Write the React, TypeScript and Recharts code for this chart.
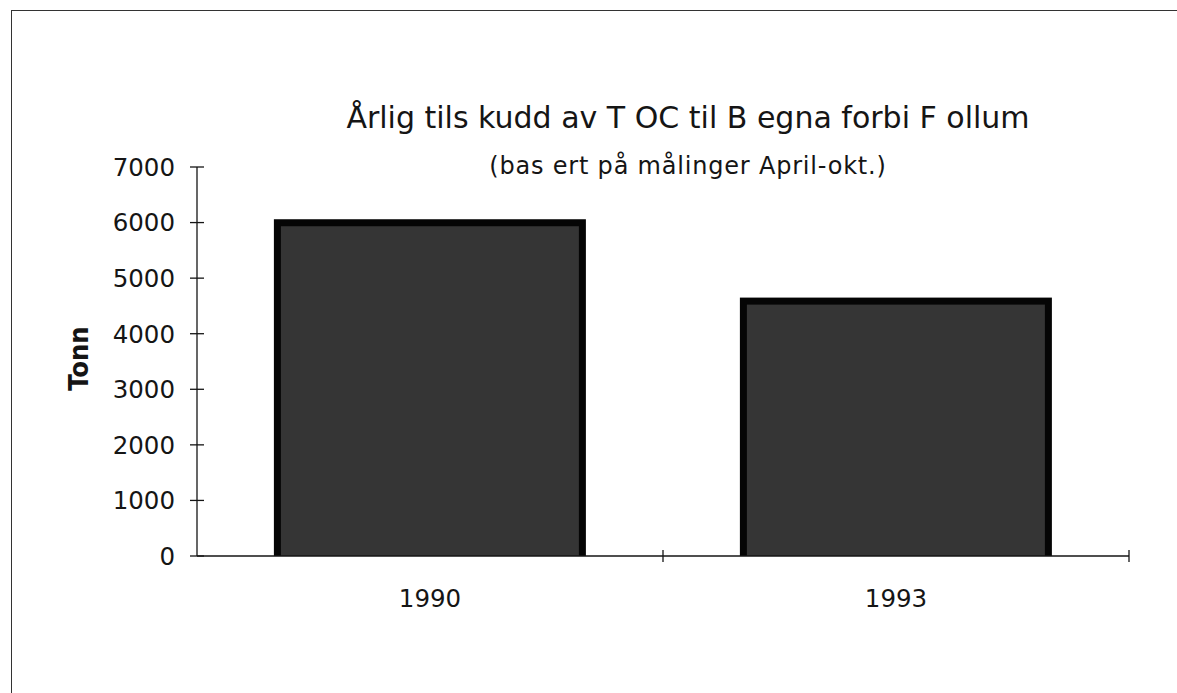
import React from 'react';
import { BarChart, Bar, XAxis, YAxis } from 'recharts';

const categories = ['1990', '1993'];
const tonnValues = [6060, 4650];
const yTicks = [0, 1000, 2000, 3000, 4000, 5000, 6000, 7000];
const titleText = 'Årlig tils kudd av T OC til B egna forbi F ollum';
const subtitleText = '(bas ert på målinger April-okt.)';
const yLabelText = 'Tonn';

const data = categories.map((c, i) => ({ year: c, tonn: tonnValues[i] }));

const FONT = '"DejaVu Sans", sans-serif';
const INK = '#151515';

const YTick = (props: any) => {
  const { x, y, payload } = props;
  const axisX = x + 22;
  return (
    <g>
      <line x1={axisX - 7} x2={axisX + 7} y1={y} y2={y} stroke={INK} strokeWidth={1.3} />
      <text x={x} y={y} dy="0.36em" textAnchor="end" fontFamily={FONT} fontSize={24.5} fill={INK}>
        {payload.value}
      </text>
    </g>
  );
};

const XTick = (props: any) => {
  const { x, y, payload, index, visibleTicksCount } = props;
  const axisY = y - 6;
  const half = payload.offset || 0;
  const isLast = index === visibleTicksCount - 1;
  return (
    <g>
      {index > 0 && (
        <line x1={x - half} x2={x - half} y1={axisY - 6} y2={axisY + 6} stroke={INK} strokeWidth={1.3} />
      )}
      {isLast && (
        <line x1={x + half} x2={x + half} y1={axisY - 6} y2={axisY + 6} stroke={INK} strokeWidth={1.3} />
      )}
      <text x={x} y={axisY + 51} textAnchor="middle" fontFamily={FONT} fontSize={24.5} fill={INK}>
        {payload.value}
      </text>
    </g>
  );
};

const BarShape = (props: any) => {
  const { x, y, width, height } = props;
  if (!height || height <= 0) return null;
  const b = 7;
  return (
    <g>
      <rect x={x} y={y} width={width} height={height} fill="#050505" />
      <rect x={x + b} y={y + b} width={Math.max(0, width - 2 * b)} height={Math.max(0, height - b)} fill="#353535" />
    </g>
  );
};

const YLabel = (props: any) => {
  const vb = props.viewBox || { x: 0, y: 0, width: 0, height: 0 };
  const cx = vb.x - 39;
  const cy = vb.y + vb.height / 2 - 3;
  return (
    <text
      x={cx}
      y={cy}
      transform={`rotate(-90, ${cx}, ${cy})`}
      textAnchor="middle"
      dy="0.36em"
      fontFamily='"DejaVu Sans Condensed", "DejaVu Sans", sans-serif'
      fontWeight="bold"
      fontSize={27}
      fill={INK}
    >
      {yLabelText}
    </text>
  );
};

export default function App() {
  return (
    <div style={{ position: 'absolute', left: 0, top: 0, width: 1177, height: 693, background: '#fff', overflow: 'hidden' }}>
      <div
        style={{
          position: 'absolute',
          left: 11,
          top: 10,
          width: 1200,
          height: 720,
          borderTop: '1.5px solid #333',
          borderLeft: '1.5px solid #333',
        }}
      />
      <svg width={1177} height={693} style={{ position: 'absolute', left: 0, top: 0, pointerEvents: 'none' }}>
        <text x={688} y={128} textAnchor="middle" fontFamily={FONT} fontSize={30} fill={INK}>
          {titleText}
        </text>
        <text x={688} y={174} textAnchor="middle" fontFamily={FONT} fontSize={24} letterSpacing={0.8} fill={INK}>
          {subtitleText}
        </text>
      </svg>
      <div style={{ position: 'absolute', left: 0, top: 0 }}>
        <BarChart
          width={1177}
          height={693}
          data={data}
          margin={{ top: 167, right: 48, left: 117, bottom: 77 }}
          barCategoryGap="16.5%"
        >
          <XAxis
            dataKey="year"
            height={60}
            axisLine={{ stroke: INK, strokeWidth: 1.3 }}
            tickLine={false}
            tickSize={6}
            tickMargin={0}
            tick={<XTick />}
            interval={0}
          />
          <YAxis
            width={80}
            domain={[0, 7000]}
            ticks={yTicks}
            interval={0}
            axisLine={{ stroke: INK, strokeWidth: 1.3 }}
            tickLine={false}
            tickSize={7}
            tickMargin={15}
            tick={<YTick />}
            label={<YLabel />}
          />
          <Bar dataKey="tonn" isAnimationActive={false} shape={<BarShape />} />
        </BarChart>
      </div>
    </div>
  );
}
